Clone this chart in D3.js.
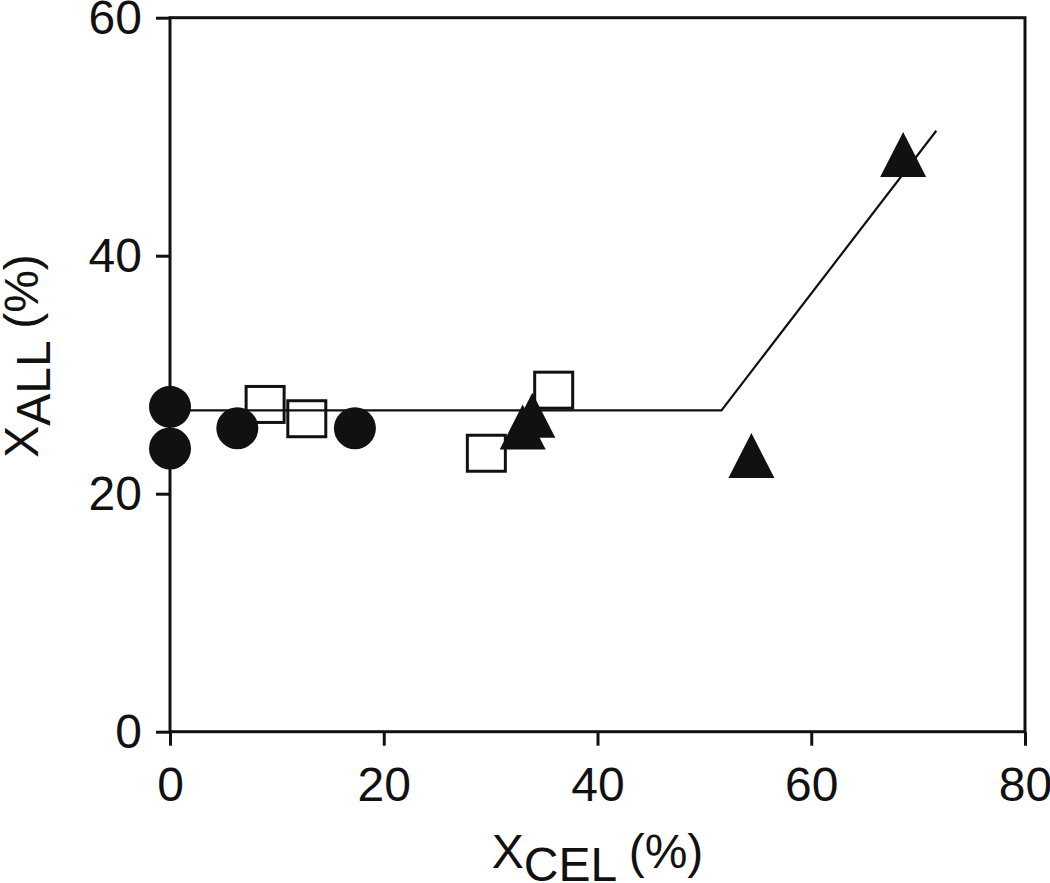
<!DOCTYPE html>
<meta charset="utf-8">
<head>
  <title>XALL vs XCEL</title>
  <style>
    body { margin: 0; background: #fff; }
    svg text { font-family: "Liberation Sans", Arial, Helvetica, sans-serif; fill: #111; }
    .axis path { display: none; }
    .axis line { stroke: #111; stroke-width: 3; }
    .axis text { font-size: 48px; }
  </style>
  <script src="https://d3js.org/d3.v7.min.js"></script>
</head>
<body>
<svg width="1050" height="883"></svg>
<script>
// data
var circleX = [0, 0, 6.3, 17.3];
var circleY = [27.3, 23.8, 25.5, 25.5];
var squareX = [8.9, 12.8, 29.6, 35.9];
var squareY = [27.5, 26.3, 23.4, 28.7];
var triangleX = [33.9, 33.0, 54.4, 68.6];
var triangleY = [26.6, 25.6, 23.2, 48.5];
var fitX = [0, 51.6, 71.7];
var fitY = [27, 27, 50.5];
var xTicks = [0, 20, 40, 60, 80];
var yTicks = [0, 20, 40, 60];

var margin = {top: 17.7, right: 25, bottom: 151.3, left: 170};
var width = 1050 - margin.left - margin.right;
var height = 883 - margin.top - margin.bottom;

var svg = d3.select('svg');
var g = svg.append('g').attr('transform', 'translate(' + margin.left + ',' + margin.top + ')');

var x = d3.scaleLinear().domain([0, 80]).range([0, width]);
var y = d3.scaleLinear().domain([0, 60]).range([height, 0]);

function pts(xs, ys) {
  return xs.map(function(d, i) { return {x: d, y: ys[i]}; });
}

// axes
g.append('g').attr('class', 'axis')
  .attr('transform', 'translate(0,' + height + ')')
  .call(d3.axisBottom(x).tickValues(xTicks).tickSize(14).tickPadding(21));

g.append('g').attr('class', 'axis')
  .call(d3.axisLeft(y).tickValues(yTicks).tickSize(14).tickPadding(14));

// frame
g.append('rect')
  .attr('width', width).attr('height', height)
  .attr('fill', 'none').attr('stroke', '#111').attr('stroke-width', 3);

// fitted line
var line = d3.line().x(function(d) { return x(d.x); }).y(function(d) { return y(d.y); });
g.append('path')
  .datum(pts(fitX, fitY))
  .attr('d', line)
  .attr('fill', 'none').attr('stroke', '#111').attr('stroke-width', 2.2);

// open squares
g.selectAll('rect.sq')
  .data(pts(squareX, squareY))
  .enter().append('rect')
  .attr('class', 'sq')
  .attr('x', function(d) { return x(d.x) - 19; })
  .attr('y', function(d) { return y(d.y) - 18; })
  .attr('width', 38).attr('height', 36)
  .attr('fill', 'none').attr('stroke', '#111').attr('stroke-width', 3);

// filled circles
g.selectAll('circle')
  .data(pts(circleX, circleY))
  .enter().append('circle')
  .attr('cx', function(d) { return x(d.x); })
  .attr('cy', function(d) { return y(d.y); })
  .attr('r', 21)
  .attr('fill', '#111');

// filled triangles
g.selectAll('path.tri')
  .data(pts(triangleX, triangleY))
  .enter().append('path')
  .attr('class', 'tri')
  .attr('d', function(d) {
    var cx = x(d.x), cy = y(d.y), w = 46, h = 45;
    return 'M' + cx + ',' + (cy - h / 2) + 'L' + (cx + w / 2) + ',' + (cy + h / 2) +
      'L' + (cx - w / 2) + ',' + (cy + h / 2) + 'Z';
  })
  .attr('fill', '#111');

// axis titles
var xt = svg.append('text')
  .attr('x', margin.left + width / 2).attr('y', 868)
  .attr('text-anchor', 'middle').style('font-size', '48px');
xt.append('tspan').text('X');
xt.append('tspan').attr('dy', 13).text('CEL');
xt.append('tspan').attr('dy', -13).text(' (%)');

var yt = svg.append('text')
  .attr('transform', 'translate(38,356) rotate(-90)')
  .attr('text-anchor', 'middle').style('font-size', '48px');
yt.append('tspan').text('X');
yt.append('tspan').attr('dy', 12).text('ALL');
yt.append('tspan').attr('dy', -12).text(' (%)');
</script>
</body>
</html>
